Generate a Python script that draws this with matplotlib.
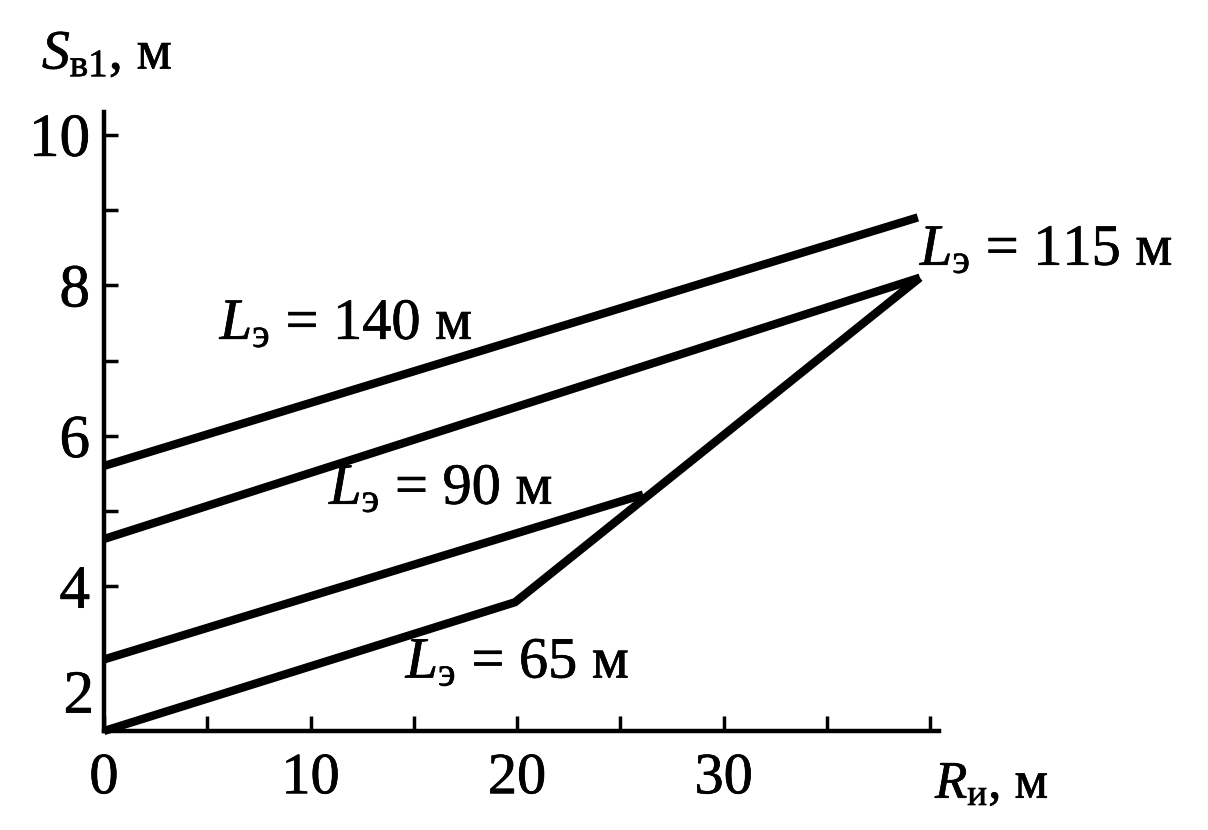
import matplotlib
matplotlib.use("Agg")
import matplotlib.pyplot as plt
import matplotlib.patheffects as pe
from matplotlib.transforms import blended_transform_factory

plt.rcParams['font.family'] = ['Liberation Serif', 'DejaVu Serif']
plt.rcParams['mathtext.fontset'] = 'custom'
plt.rcParams['mathtext.rm'] = 'Liberation Serif'
plt.rcParams['mathtext.it'] = 'Liberation Serif:italic'
plt.rcParams['mathtext.bf'] = 'Liberation Serif:bold'

# Data (R_и, м ; S_в1, м)
r_140 = [0, 39.4]
s_140 = [5.6, 8.9]
r_115 = [0, 39.5]
s_115 = [4.63, 8.1]
r_90 = [0, 26.1]
s_90 = [3.03, 5.22]
r_65 = [0, 19.9, 39.5]
s_65 = [2.08, 3.79, 8.1]

series_labels = ["140", "115", "90", "65"]

x_ticks = [0, 5, 10, 15, 20, 25, 30, 35, 40]
x_ticklabels = ["0", "", "10", "", "20", "", "30", "", ""]
y_major = [4, 6, 8, 10]
y_minor = [5, 7, 9]

fig = plt.figure(figsize=(12.08, 8.30), dpi=100)
ax = fig.add_axes([104/1208, 99/830, (938.5-104)/1208, (731-112)/830])

lw = 6.0
for r, s in [(r_140, s_140), (r_115, s_115), (r_90, s_90), (r_65, s_65)]:
    ax.plot(r, s, color='black', lw=lw, solid_capstyle='butt', solid_joinstyle='miter', clip_on=False)

ax.set_xlim(0, 40.4)
ax.set_ylim(2.08, 10.3)

for sp in ['top', 'right']:
    ax.spines[sp].set_visible(False)
for sp in ['left', 'bottom']:
    ax.spines[sp].set_linewidth(3.2)

ax.set_xticks(x_ticks)
ax.set_xticklabels(x_ticklabels)
ax.set_yticks(y_major)
ax.set_yticklabels([str(v) for v in y_major])
ax.set_yticks(y_minor, minor=True)

ax.tick_params(axis='x', direction='in', length=11, width=2.5, labelsize=42, pad=16)
ax.tick_params(axis='y', which='both', direction='in', length=10, width=2.5, labelsize=44, pad=10)
ax.tick_params(axis='y', which='minor', labelleft=False)

heavy = [pe.withStroke(linewidth=0.5, foreground='black')]
for lab in ax.get_xticklabels() + ax.get_yticklabels():
    lab.set_path_effects(heavy)

# misplaced "2" label as in the original figure
trans = blended_transform_factory(ax.transAxes, ax.transData)
ax.text(-10/835, 2.52, "2", transform=trans, ha='right', va='center', fontsize=44, path_effects=heavy)

fs = 42
ax.text(5.6, 7.47, r"$L_{\mathrm{э}}$ = " + series_labels[0] + " м", fontsize=fs, va='center', ha='left', path_effects=heavy)
ax.text(39.5, 8.45, r"$L_{\mathrm{э}}$ = " + series_labels[1] + " м", fontsize=fs, va='center', ha='left', clip_on=False, path_effects=heavy)
ax.text(10.9, 5.28, r"$L_{\mathrm{э}}$ = " + series_labels[2] + " м", fontsize=fs, va='center', ha='left', path_effects=heavy)
ax.text(14.6, 2.97, r"$L_{\mathrm{э}}$ = " + series_labels[3] + " м", fontsize=fs, va='center', ha='left', path_effects=heavy)

fig.text(42/1208, 1 - 55/830, r"$S_{\mathrm{в1}}$, м", fontsize=40, ha='left', va='center', path_effects=heavy)
fig.text(935/1208, 1 - 785/830, r"$R_{\mathrm{и}}$, м", fontsize=38, ha='left', va='center', path_effects=heavy)

fig.savefig("out.png", dpi=100, facecolor='white')
